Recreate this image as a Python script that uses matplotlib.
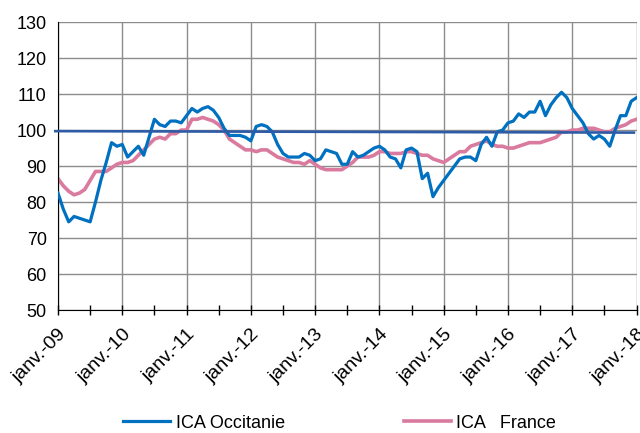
import numpy as np
import matplotlib.pyplot as plt

plt.rcParams['font.family'] = ['Liberation Sans', 'DejaVu Sans']

years = ['09', '10', '11', '12', '13', '14', '15', '16', '17', '18']
tick_labels = ['janv.-' + y for y in years]

# ICA Occitanie, monthly from janv.-09 to janv.-18
occitanie = [
    82.5, 78, 74.5, 76, 75.5, 75, 74.5, 80, 86, 91, 96.5, 95.5,
    96, 92.5, 94, 95.5, 93, 98, 103, 101.5, 101, 102.5, 102.5, 102,
    104, 106, 105, 106, 106.5, 105.5, 103.5, 100.5, 98.5, 98.5, 98.5, 98,
    97, 101, 101.5, 101, 99.5, 96, 93.5, 92.5, 92.5, 92.5, 93.5, 93,
    91.5, 92, 94.5, 94, 93.5, 90.5, 90.5, 94, 92.5, 93, 94, 95,
    95.5, 94.5, 92.5, 92, 89.5, 94.5, 95, 94, 86.5, 88, 81.5, 84,
    86, 88, 90, 92, 92.5, 92.5, 91.5, 96, 98, 95.5, 99.5, 100,
    102, 102.5, 104.5, 103.5, 105, 105, 108, 104, 107, 109, 110.5, 109,
    106, 104, 102, 99, 97.5, 98.5, 97.5, 95.5, 100, 104, 104, 108,
    109,
]

# ICA France
france = [
    86.5, 84.5, 83, 82, 82.5, 83.5, 86, 88.5, 88.5, 88.5, 89.5, 90.5,
    91, 91, 91.5, 93, 94.5, 96, 97.5, 98, 97.5, 99, 99, 100,
    100, 103, 103, 103.5, 103, 102.5, 101.5, 100, 97.5, 96.5, 95.5, 94.5,
    94.5, 94, 94.5, 94.5, 93.5, 92.5, 92, 91.5, 91, 91, 90.5, 91.5,
    90.5, 89.5, 89, 89, 89, 89, 90, 91, 92.5, 92.5, 92.5, 93,
    94, 94, 93.5, 93.5, 93.5, 94, 94, 93.5, 93, 93, 92, 91.5,
    91, 92, 93, 94, 94, 95.5, 96, 96.5, 97, 96, 95.5, 95.5,
    95, 95, 95.5, 96, 96.5, 96.5, 96.5, 97, 97.5, 98, 99.5, 99.5,
    100, 100, 100.5, 100.5, 100.5, 100, 99.5, 99.5, 100.5, 101, 101.5, 102.5,
    103,
]

# reference line (long-term level)
ref_level = [99.7, 99.3]

months = np.arange(len(occitanie))

fig = plt.figure(figsize=(6.4, 4.33), dpi=100)
ax = fig.add_axes([0.0906, 0.284, 0.904, 0.665])

ax.plot(months, occitanie, color='#0070C0', lw=2.3, label='ICA Occitanie', zorder=3)
ax.plot(months, france, color='#D97A9E', lw=2.6, label='ICA   France', zorder=2)
ax.plot([-0.5, 107.5], ref_level, color='#2E5BA6', lw=1.9, zorder=4, clip_on=False)

ax.set_xlim(0, 108)
ax.set_ylim(50, 130)
ax.set_yticks(range(50, 131, 10))
ax.set_xticks(range(0, 109, 12))
ax.set_xticklabels(tick_labels, rotation=45, ha='right', va='top',
                   rotation_mode='anchor', fontsize=14)
ax.set_xticks(range(6, 109, 12), minor=True)

ax.grid(True, color='#8c8c8c', lw=1)
ax.set_axisbelow(True)
for s in ['top', 'right']:
    ax.spines[s].set_visible(False)
ax.spines['left'].set_color('black')
ax.spines['bottom'].set_color('black')
ax.tick_params(axis='y', length=0, pad=8, labelsize=13)
ax.tick_params(axis='x', which='both', direction='inout', length=7, width=1, pad=8)

fig.legend(loc='center', bbox_to_anchor=(0.531, 0.023), ncol=2, frameon=False,
           fontsize=13, columnspacing=6.6, handlelength=2.6, handletextpad=0.3)

plt.savefig('out.png', dpi=100)
